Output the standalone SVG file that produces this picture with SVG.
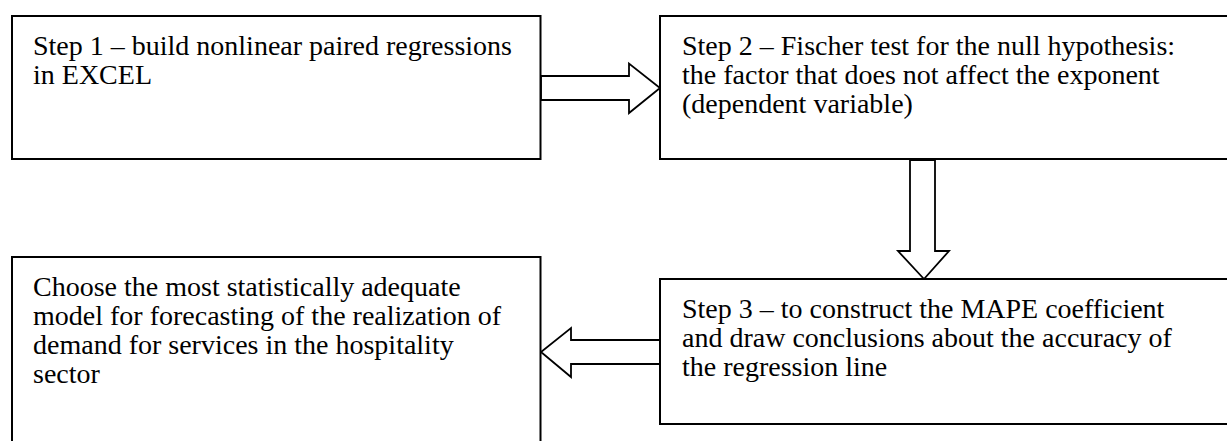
<svg xmlns="http://www.w3.org/2000/svg" width="1227" height="441" viewBox="0 0 1227 441">
<style>
.box{fill:#fff;stroke:#000;stroke-width:2}
.arr{fill:#fff;stroke:#000;stroke-width:1.8;stroke-linejoin:miter}
text{font-family:"Liberation Serif","Times New Roman",serif;font-size:28px;fill:#000}
</style>
<rect width="1227" height="441" fill="#fff"/>
<g id="connectors">
<polygon class="arr" points="541,76 629,76 629,63.5 660,88 629,113 629,100 541,100"/>
<polygon class="arr" points="910,160 935,160 935,251 949,251 924,279 898,251 910,251"/>
<polygon class="arr" points="660,340 571,340 571,328 541,352 571,377 571,364 660,364"/>
</g>
<g id="step1">
<rect class="box" x="12" y="16" width="528.5" height="143"/>
<text x="33" y="55">Step 1 – build nonlinear paired regressions</text>
<text x="33" y="84">in EXCEL</text>
</g>
<g id="step2">
<rect class="box" x="660" y="16" width="580" height="143"/>
<text x="682" y="55">Step 2 – Fischer test for the null hypothesis:</text>
<text x="682" y="84">the factor that does not affect the exponent</text>
<text x="682" y="113">(dependent variable)</text>
</g>
<g id="step3">
<rect class="box" x="660" y="279" width="580" height="145"/>
<text x="682" y="318">Step 3 – to construct the MAPE coefficient</text>
<text x="682" y="347">and draw conclusions about the accuracy of</text>
<text x="682" y="376">the regression line</text>
</g>
<g id="choose">
<rect class="box" x="12" y="257" width="528.5" height="200"/>
<text x="33" y="296">Choose the most statistically adequate</text>
<text x="33" y="325">model for forecasting of the realization of</text>
<text x="33" y="354">demand for services in the hospitality</text>
<text x="33" y="383">sector</text>
</g>
</svg>
